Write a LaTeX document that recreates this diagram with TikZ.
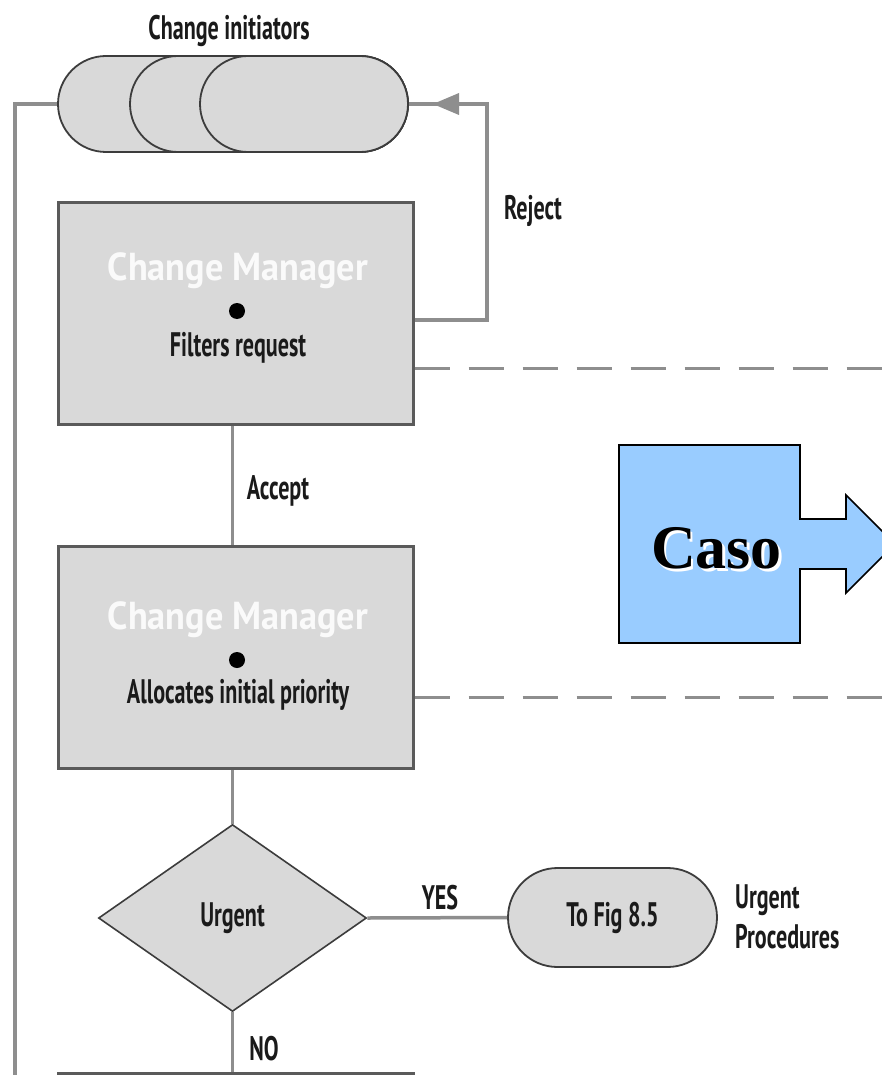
\documentclass[tikz,border=0pt]{standalone}
\usepackage{fontspec}
\setmainfont{PT Sans}
\newfontfamily\condf[FakeStretch=0.65]{PT Sans}
\newfontfamily\mgrf[FakeStretch=0.93]{PT Sans}
\newfontfamily\casof{Liberation Serif}
\usetikzlibrary{shapes.geometric,shapes.misc,arrows.meta,calc}
\definecolor{boxgray}{HTML}{D9D9D9}
\definecolor{linegray}{HTML}{8E8E8E}
\definecolor{bordergray}{HTML}{5A5A5A}
\definecolor{darkline}{HTML}{3C3C3C}
\definecolor{casoblue}{HTML}{99CCFF}
\definecolor{txt}{HTML}{1A1A1A}
\tikzset{
  procbox/.style={draw=bordergray, line width=3pt, fill=boxgray, inner sep=0pt,
    minimum width=355pt, minimum height=222pt},
  initiator/.style={rounded rectangle, draw=darkline, line width=1.8pt, fill=boxgray,
    inner sep=0pt, minimum height=96pt},
  decision/.style={diamond, draw=darkline, line width=1.6pt, fill=boxgray, inner sep=0pt,
    minimum width=268pt, minimum height=187pt},
  terminal/.style={rounded rectangle, draw=darkline, line width=1.8pt, fill=boxgray,
    inner sep=0pt, minimum width=209pt, minimum height=99pt},
  conn/.style={draw=linegray, line width=3.5pt},
  dashconn/.style={draw=linegray, line width=3pt, dash pattern=on 35pt off 19pt},
  lbl/.style={font=\condf\bfseries\fontsize{34}{38}\selectfont, text=txt, inner sep=0pt},
  mgr/.style={font=\mgrf\bfseries\fontsize{39}{40}\selectfont, text=white!96!gray, inner sep=0pt},
  dot/.style={circle, fill=black, inner sep=0pt, minimum size=16pt},
}
\begin{document}
\begin{tikzpicture}[x=1pt,y=-1pt]
\useasboundingbox (0,0) rectangle (882,1075);
\clip (0,0) rectangle (882,1075);
\fill[white] (0,0) rectangle (882,1075);

% change initiators
\node[initiator, minimum width=350pt] (s1) at (233,104) {};
\node[initiator, minimum width=278pt] (s2) at (269,104) {};
\node[initiator, minimum width=208pt] (s3) at (304,104) {};
\node[lbl] (tinit) at (229,31) {Change initiators};

% process boxes
\node[procbox] (b1) at (235.5,313.5) {};
\node[mgr] (m1) at (238,271) {Change Manager};
\node[dot] (d1) at (237,311) {};
\node[lbl] (f1) at (238,348) {Filters request};

\node[procbox] (b2) at (235.5,657.5) {};
\node[mgr] (m2) at (238,620) {Change Manager};
\node[dot] (d2) at (237,660) {};
\node[lbl] (f2) at (238,695) {Allocates initial priority};

\node[procbox] (b3) at (235.5,1184) {};

% decision and terminal
\node[decision] (dec) at (232.5,918) {};
\node[lbl] (urg) at (232.5,918) {Urgent};
\node[terminal] (tf) at (612.5,917.5) {};
\node[lbl] (tft) at (612.5,918) {To Fig 8.5};
\node[lbl, align=left, anchor=west, font=\condf\bfseries\fontsize{34}{40}\selectfont] (up) at (735,917) {Urgent\\Procedures};

% connectors
\coordinate (lc) at (15,1080);
\draw[conn] (s1.west) -| (lc);

\coordinate (rjA) at (487,320);
\coordinate (ah) at (433,104);
\draw[conn] ($(b1.east)+(0,6.5)$) -- (rjA) |- (ah);
\draw[conn] (ah) -- (s3.east);
\fill[linegray] (ah) -- ++(26,-11) -- ++(0,22) -- cycle;
\node[lbl] (rej) at (533,211) {Reject};

\draw[conn] (dec.north |- b1.south) -- (dec.north |- b2.north);
\node[lbl] (acc) at (278,491) {Accept};
\draw[conn] (dec.north |- b2.south) -- (dec.north);
\draw[conn] (dec.east) -- (tf.west);
\node[lbl] (yes) at (440,898) {YES};
\draw[conn] (dec.south) -- (dec.south |- b3.north);
\node[lbl] (no) at (264,1049) {NO};

\coordinate (dA) at (900,368);
\coordinate (dB) at (900,697);
\draw[dashconn] ($(b1.east)+(0,54.5)$) -- (dA);
\draw[dashconn] ($(b2.east)+(0,39.5)$) -- (dB);

% Caso arrow
\filldraw[fill=casoblue, draw=black, line width=1.6pt]
  (619,445) -- (800,445) -- (800,519) -- (846,519) -- (846,495) -- (895,544)
  -- (846,593) -- (846,569) -- (800,569) -- (800,643) -- (619,643) -- cycle;
\node[font=\casof\bfseries\fontsize{62}{64}\selectfont, text=black, inner sep=0pt] (caso) at (716.5,548)
  {\makebox[0pt][l]{\hspace{2.5pt}\raisebox{-3pt}[0pt][0pt]{\color{white}Caso}}Caso};
\end{tikzpicture}
\end{document}
